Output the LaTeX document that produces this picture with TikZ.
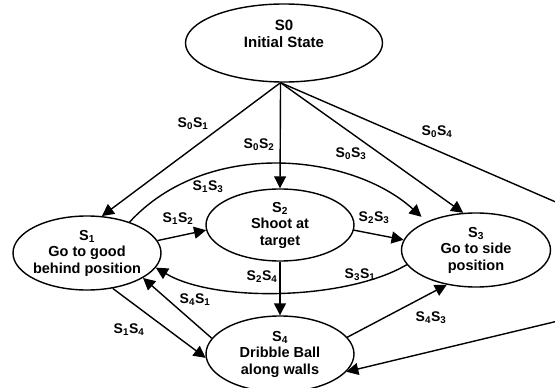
\documentclass[tikz,border=0pt]{standalone}
\usepackage{fontspec}
\setmainfont{Liberation Sans}
\usepackage{tikz}
\usetikzlibrary{shapes.geometric,arrows.meta}
\newcommand{\trn}[2]{S\textsubscript{#1}S\textsubscript{#2}}
\tikzset{
  stateE/.style={ draw, ellipse, line width=1.4pt, inner xsep=-4pt, inner ysep=0pt, minimum width=148pt, minimum height=74pt, align=center, font=\bfseries\fontsize{14.5}{16.5}\selectfont }
}
\tikzset{
  statetxt/.style={ inner sep=0pt, align=center, font=\bfseries\fontsize{15}{16.5}\selectfont }
}
\tikzset{
  trlbl/.style={ inner sep=0pt, font=\bfseries\fontsize{14}{16}\selectfont }
}
\tikzset{
  trarr/.style={ line width=1.4pt, -{Triangle[length=12pt,width=12pt]} }
}

\begin{document}
\begin{tikzpicture}[x=1pt, y=-1pt]
      \useasboundingbox (0,0) rectangle (555,388);
      % states
      \node[stateE, minimum width=197pt, minimum height=78pt] (S0) at (284,43) {};
      \node[statetxt] (S0txt) at (284,34) {S0\\Initial State};
      \node[stateE] (S1) at (87,253) {S\textsubscript{1}\\Go to good\\behind position};
      \node[stateE, minimum height=72pt] (S2) at (280,225) {S\textsubscript{2}\\Shoot at\\target};
      \node[stateE, minimum width=149pt] (S3) at (476,250) {S\textsubscript{3}\\Go to side\\position};
      \node[stateE, minimum height=76pt] (S4) at (280,354) {S\textsubscript{4}\\Dribble Ball\\along walls};
      \coordinate (c1) at (558,203);
      \coordinate (c2) at (558,321);

      % transitions
      \draw[trarr] (S0.265) -- (S1.68);
      \draw[trarr] (S0.265) -- (S2.north);
      \draw[trarr] (S0.265) -- (S3.109);
      \draw[trarr] (S0.265) -- (c1) -- (c2) -- (S4.-15);
      \draw[trarr, shorten >=7pt] (S1.36) .. controls (207,138) and (351,153) .. (S3.150);
      \draw[trarr] (S3.192) .. controls (347,300) and (215,303) .. (S1.-12);
      \draw[trarr] (S1.10) -- (S2.184);
      \draw[trarr] (S2.-4) -- (S3.172);
      \draw[trarr] (S2.south) -- (S4.north);
      \draw[trarr] (S1.-54) -- (S4.183);
      \draw[trarr] (S4.167) -- (S1.-24);
      \draw[trarr] (S4.14) -- (S3.230);

      % labels
      \node[trlbl] (l01) at (193,124) {\trn{0}{1}};
      \node[trlbl] (l02) at (259,145) {\trn{0}{2}};
      \node[trlbl] (l03) at (351,154) {\trn{0}{3}};
      \node[trlbl] (l04) at (437,132) {\trn{0}{4}};
      \node[trlbl] (l13) at (208,187) {\trn{1}{3}};
      \node[trlbl] (l12) at (178,219) {\trn{1}{2}};
      \node[trlbl] (l23) at (374,218) {\trn{2}{3}};
      \node[trlbl] (l24) at (262,277) {\trn{2}{4}};
      \node[trlbl] (l31) at (360,275) {\trn{3}{1}};
      \node[trlbl] (l41) at (195,300) {\trn{4}{1}};
      \node[trlbl] (l14) at (129,330) {\trn{1}{4}};
      \node[trlbl] (l43) at (431,318) {\trn{4}{3}};
    \end{tikzpicture}
\end{document}
